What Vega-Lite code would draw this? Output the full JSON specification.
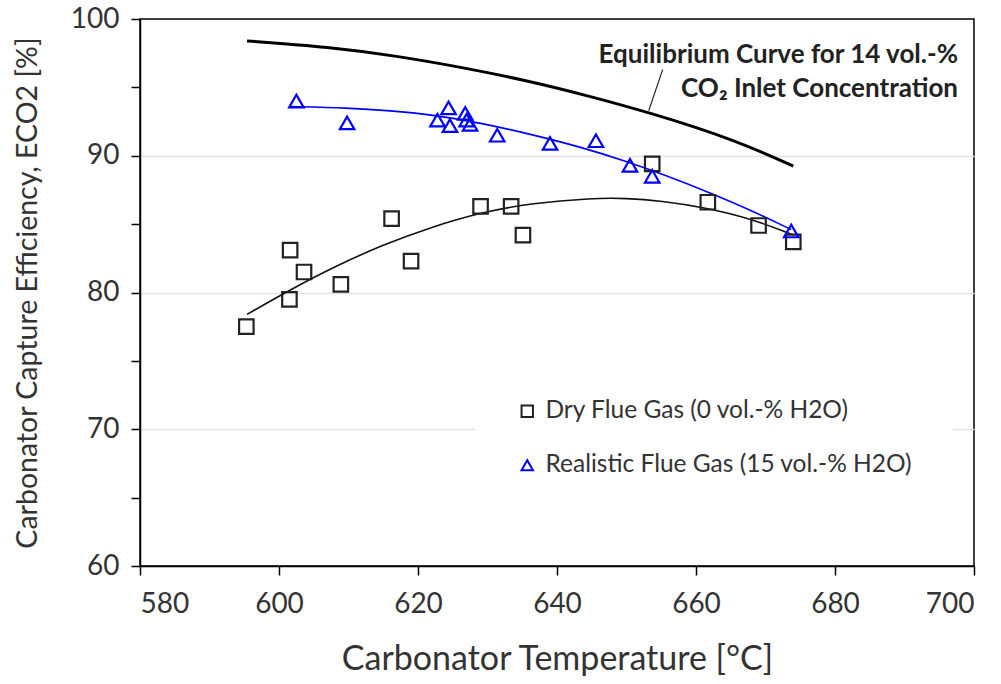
{
  "$schema": "https://vega.github.io/schema/vega-lite/v6.json",
  "width": 834,
  "height": 547,
  "autosize": {"type": "none"},
  "padding": {"left": 140, "top": 19, "right": 27, "bottom": 118},
  "background": "white",
  "config": {
    "font": "Lato",
    "view": {"stroke": "#000", "strokeWidth": 1.5},
    "axis": {"labelFont": "Lato", "titleFont": "Lato", "labelColor": "#333", "titleColor": "#333", "titleFontWeight": "normal", "domainColor": "#000", "tickColor": "#000", "domainWidth": 1.5, "tickWidth": 1.5}
  },
  "datasets": {
    "points": [
      {"T": 595.3, "E": 77.5, "series": "Dry Flue Gas (0 vol.-% H2O)"},
      {"T": 601.6, "E": 83.1, "series": "Dry Flue Gas (0 vol.-% H2O)"},
      {"T": 601.5, "E": 79.5, "series": "Dry Flue Gas (0 vol.-% H2O)"},
      {"T": 603.6, "E": 81.5, "series": "Dry Flue Gas (0 vol.-% H2O)"},
      {"T": 608.9, "E": 80.6, "series": "Dry Flue Gas (0 vol.-% H2O)"},
      {"T": 616.2, "E": 85.4, "series": "Dry Flue Gas (0 vol.-% H2O)"},
      {"T": 619.0, "E": 82.3, "series": "Dry Flue Gas (0 vol.-% H2O)"},
      {"T": 629.0, "E": 86.3, "series": "Dry Flue Gas (0 vol.-% H2O)"},
      {"T": 633.4, "E": 86.3, "series": "Dry Flue Gas (0 vol.-% H2O)"},
      {"T": 635.1, "E": 84.2, "series": "Dry Flue Gas (0 vol.-% H2O)"},
      {"T": 653.7, "E": 89.4, "series": "Dry Flue Gas (0 vol.-% H2O)"},
      {"T": 661.7, "E": 86.6, "series": "Dry Flue Gas (0 vol.-% H2O)"},
      {"T": 669.0, "E": 84.9, "series": "Dry Flue Gas (0 vol.-% H2O)"},
      {"T": 674.0, "E": 83.7, "series": "Dry Flue Gas (0 vol.-% H2O)"},
      {"T": 602.5, "E": 94.0, "series": "Realistic Flue Gas (15 vol.-% H2O)"},
      {"T": 609.8, "E": 92.4, "series": "Realistic Flue Gas (15 vol.-% H2O)"},
      {"T": 622.8, "E": 92.6, "series": "Realistic Flue Gas (15 vol.-% H2O)"},
      {"T": 624.4, "E": 93.5, "series": "Realistic Flue Gas (15 vol.-% H2O)"},
      {"T": 624.6, "E": 92.2, "series": "Realistic Flue Gas (15 vol.-% H2O)"},
      {"T": 626.8, "E": 93.1, "series": "Realistic Flue Gas (15 vol.-% H2O)"},
      {"T": 627.0, "E": 92.6, "series": "Realistic Flue Gas (15 vol.-% H2O)"},
      {"T": 627.5, "E": 92.3, "series": "Realistic Flue Gas (15 vol.-% H2O)"},
      {"T": 631.4, "E": 91.5, "series": "Realistic Flue Gas (15 vol.-% H2O)"},
      {"T": 639.0, "E": 90.9, "series": "Realistic Flue Gas (15 vol.-% H2O)"},
      {"T": 645.6, "E": 91.1, "series": "Realistic Flue Gas (15 vol.-% H2O)"},
      {"T": 650.5, "E": 89.3, "series": "Realistic Flue Gas (15 vol.-% H2O)"},
      {"T": 653.7, "E": 88.5, "series": "Realistic Flue Gas (15 vol.-% H2O)"},
      {"T": 673.7, "E": 84.5, "series": "Realistic Flue Gas (15 vol.-% H2O)"}
    ],
    "curves": [
      {"T": 595.4, "E": 98.4, "curve": "eq"},
      {"T": 607.3, "E": 97.95, "curve": "eq"},
      {"T": 616.9, "E": 97.3, "curve": "eq"},
      {"T": 626.5, "E": 96.45, "curve": "eq"},
      {"T": 636.1, "E": 95.45, "curve": "eq"},
      {"T": 644.0, "E": 94.45, "curve": "eq"},
      {"T": 653.4, "E": 93.15, "curve": "eq"},
      {"T": 665.4, "E": 91.2, "curve": "eq"},
      {"T": 674.0, "E": 89.25, "curve": "eq"},
      {"T": 595.4, "E": 78.4, "curve": "dry"},
      {"T": 601.6, "E": 80.2, "curve": "dry"},
      {"T": 608.0, "E": 81.9, "curve": "dry"},
      {"T": 615.0, "E": 83.5, "curve": "dry"},
      {"T": 622.0, "E": 84.8, "curve": "dry"},
      {"T": 629.0, "E": 85.85, "curve": "dry"},
      {"T": 636.5, "E": 86.55, "curve": "dry"},
      {"T": 645.0, "E": 86.9, "curve": "dry"},
      {"T": 650.0, "E": 86.9, "curve": "dry"},
      {"T": 655.0, "E": 86.7, "curve": "dry"},
      {"T": 661.0, "E": 86.25, "curve": "dry"},
      {"T": 668.0, "E": 85.4, "curve": "dry"},
      {"T": 674.0, "E": 84.2, "curve": "dry"},
      {"T": 601.6, "E": 93.6, "curve": "wet"},
      {"T": 610.0, "E": 93.5, "curve": "wet"},
      {"T": 616.0, "E": 93.3, "curve": "wet"},
      {"T": 622.0, "E": 93.0, "curve": "wet"},
      {"T": 629.0, "E": 92.4, "curve": "wet"},
      {"T": 636.0, "E": 91.6, "curve": "wet"},
      {"T": 643.0, "E": 90.7, "curve": "wet"},
      {"T": 650.0, "E": 89.6, "curve": "wet"},
      {"T": 656.0, "E": 88.5, "curve": "wet"},
      {"T": 662.0, "E": 87.3, "curve": "wet"},
      {"T": 668.0, "E": 86.0, "curve": "wet"},
      {"T": 673.7, "E": 84.6, "curve": "wet"}
    ],
    "leader": [{"T": 653.2, "E": 93.3, "T2": 655.2, "E2": 96.3}],
    "notes": [
      {"T": 697.7, "E": 97.37, "text": "Equilibrium Curve for 14 vol.-%"},
      {"T": 697.7, "E": 94.88, "text": "CO₂ Inlet Concentration"}
    ]
  },
  "layer": [
    {
      "data": {"name": "curves"},
      "transform": [{"filter": "datum.curve == 'eq'"}],
      "mark": {"type": "line", "color": "#000", "strokeWidth": 3, "interpolate": "basis"},
      "encoding": {
        "x": {"field": "T", "type": "quantitative", "scale": {"domain": [580, 700]},
          "axis": {"values": [580, 600, 620, 640, 660, 680, 700], "title": "Carbonator Temperature [°C]", "titleFontSize": 34, "labelFontSize": 28, "tickSize": 9, "labelPadding": 15, "titlePadding": 24, "grid": false}},
        "y": {"field": "E", "type": "quantitative", "scale": {"domain": [60, 100]},
          "axis": {"values": [60, 65, 70, 75, 80, 85, 90, 95, 100], "labelExpr": "datum.value % 10 == 0 ? datum.label : ''", "title": "Carbonator Capture Efficiency, ECO2 [%]", "titleFontSize": 28.5, "labelFontSize": 28, "tickSize": 9, "labelPadding": 12, "titlePadding": 28, "grid": true, "gridColor": {"condition": {"test": "datum.value % 10 == 0 && datum.value > 60 && datum.value < 100", "value": "#e3e3e3"}, "value": "transparent"}, "gridWidth": 1.5}}
      }
    },
    {
      "data": {"name": "curves"},
      "transform": [{"filter": "datum.curve == 'dry'"}],
      "mark": {"type": "line", "color": "#111", "strokeWidth": 1.6, "interpolate": "basis"},
      "encoding": {"x": {"field": "T", "type": "quantitative"}, "y": {"field": "E", "type": "quantitative"}}
    },
    {
      "data": {"name": "curves"},
      "transform": [{"filter": "datum.curve == 'wet'"}],
      "mark": {"type": "line", "color": "#0000ff", "strokeWidth": 1.6, "interpolate": "basis"},
      "encoding": {"x": {"field": "T", "type": "quantitative"}, "y": {"field": "E", "type": "quantitative"}}
    },
    {
      "data": {"name": "leader"},
      "mark": {"type": "rule", "color": "#222", "strokeWidth": 1.2},
      "encoding": {"x": {"field": "T", "type": "quantitative"}, "y": {"field": "E", "type": "quantitative"}, "x2": {"field": "T2"}, "y2": {"field": "E2"}}
    },
    {
      "data": {"name": "notes"},
      "mark": {"type": "text", "align": "right", "baseline": "middle", "fontWeight": "bold", "fontSize": 26, "color": "#222"},
      "encoding": {"x": {"field": "T", "type": "quantitative"}, "y": {"field": "E", "type": "quantitative"}, "text": {"field": "text"}}
    },
    {
      "data": {"name": "points"},
      "mark": {"type": "point", "filled": false, "strokeWidth": 2.2, "size": 210, "opacity": 1},
      "encoding": {
        "x": {"field": "T", "type": "quantitative"},
        "y": {"field": "E", "type": "quantitative"},
        "color": {"field": "series", "type": "nominal", "scale": {"domain": ["Dry Flue Gas (0 vol.-% H2O)", "Realistic Flue Gas (15 vol.-% H2O)"], "range": ["#222222", "#0000ff"]},
          "legend": {"title": null, "orient": "none", "legendX": 335, "legendY": 340, "padding": 40, "fillColor": "white", "labelFontSize": 24.5, "labelLimit": 0, "labelColor": "#333", "labelFont": "Lato", "symbolSize": 130, "symbolStrokeWidth": 2, "rowPadding": 29, "labelOffset": 6, "symbolOffset": 0}},
        "shape": {"field": "series", "type": "nominal", "scale": {"domain": ["Dry Flue Gas (0 vol.-% H2O)", "Realistic Flue Gas (15 vol.-% H2O)"], "range": ["square", "triangle-up"]}}
      }
    }
  ]
}
